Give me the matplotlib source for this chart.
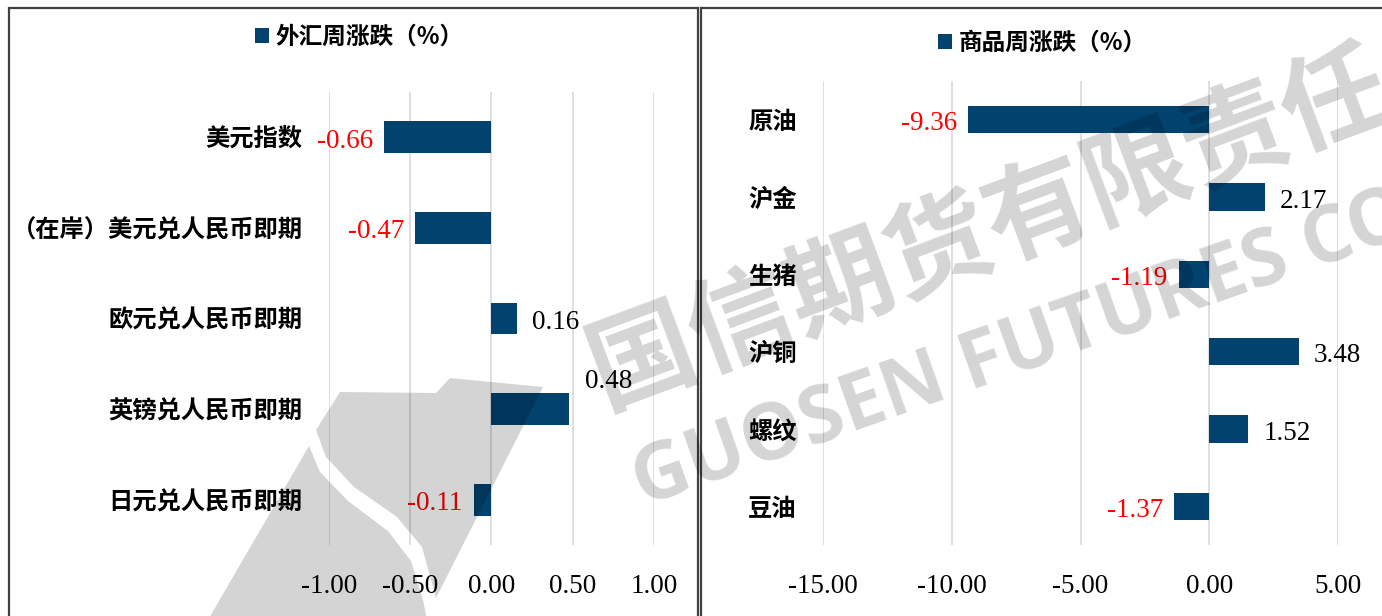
import matplotlib
matplotlib.use("Agg")
import matplotlib.pyplot as plt
from matplotlib.patches import Rectangle, Polygon

plt.rcParams['font.family'] = ['Liberation Serif', 'Noto Sans CJK SC', 'DejaVu Sans']

# data
fx_names = ['美元指数', '（在岸）美元兑人民币即期', '欧元兑人民币即期', '英镑兑人民币即期', '日元兑人民币即期']
fx_values = [-0.66, -0.47, 0.16, 0.48, -0.11]
fx_ticks = [-1.0, -0.5, 0.0, 0.5, 1.0]

com_names = ['原油', '沪金', '生猪', '沪铜', '螺纹', '豆油']
com_values = [-9.36, 2.17, -1.19, 3.48, 1.52, -1.37]
com_ticks = [-15, -10, -5, 0, 5]

BAR = '#02426F'
GRID = '#D9D9D9'
CJK = ['Noto Sans CJK SC', 'DejaVu Sans']

W, H = 1382, 616
fig = plt.figure(figsize=(W / 100, H / 100), dpi=100)

# panel borders
fig.add_artist(Rectangle((9 / W, -0.1), (698 - 9) / W, 1.1 - 8 / H, transform=fig.transFigure,
                         fill=False, edgecolor='#404040', linewidth=1.6))
fig.add_artist(Rectangle((701 / W, -0.1), 0.6, 1.1 - 8 / H, transform=fig.transFigure,
                         fill=False, edgecolor='#404040', linewidth=1.6))

ax1 = fig.add_axes([329 / W, 1 - 545 / H, 325 / W, 453 / H])
ax2 = fig.add_axes([823 / W, 1 - 545 / H, 515 / W, 464 / H])


def draw(ax, names, values, ticks, label, lim, special=None):
    y = list(range(len(names)))
    bars = ax.barh(y, values, height=0.35, color=BAR, label=label, zorder=2)
    ax.set_ylim(len(names) - 0.5, -0.5)
    ax.set_xlim(*lim)
    ax.set_xticks(ticks)
    ax.set_xticklabels([f'{t:.2f}' for t in ticks], fontsize=19.5)
    ax.set_yticks(y)
    ax.set_yticklabels(names, fontsize=17.5, fontweight='bold', family=CJK)
    ax.tick_params(axis='both', length=0)
    ax.tick_params(axis='x', pad=21)
    ax.tick_params(axis='y', pad=19)
    ax.grid(axis='x', color=GRID, linewidth=1.2, zorder=0)
    ax.set_axisbelow(True)
    for s in ax.spines.values():
        s.set_visible(False)
    for i, (b, v) in enumerate(zip(bars, values)):
        yc = b.get_y() + b.get_height() / 2
        if special is not None and i == special:
            ax.annotate(f'{v:.2f}', (v, yc), xytext=(16, 28), textcoords='offset pixels',
                        ha='left', va='center', fontsize=19.5, color='black')
        elif v < 0:
            ax.annotate(f'{v:.2f}', (v, yc), xytext=(-11, -4), textcoords='offset pixels',
                        ha='right', va='center', fontsize=19.5, color='red')
        else:
            ax.annotate(f'{v:.2f}', (v, yc), xytext=(15, -4), textcoords='offset pixels',
                        ha='left', va='center', fontsize=19.5, color='black')


draw(ax1, fx_names, fx_values, fx_ticks, '外汇周涨跌（%）', (-1.0, 1.0), special=3)
draw(ax2, com_names, com_values, com_ticks, '商品周涨跌（%）', (-15, 5))

for ax, cx, cy in [(ax1, 359, 37), (ax2, 1042, 43)]:
    ax.legend(loc='center', bbox_to_anchor=(cx / W, 1 - cy / H), bbox_transform=fig.transFigure,
              frameon=False, handlelength=0.62, handleheight=0.62, handletextpad=0.25,
              prop={'family': CJK, 'size': 17, 'weight': 'bold'})

# watermark: logo (two pieces split by a white curve) + company name
logo_upper = [(340, 392), (436, 393), (450, 378), (543, 387), (436, 598), (422, 547),
              (397, 517), (354, 487), (326, 457), (316, 430)]
logo_lower = [(309, 446), (320, 472), (348, 501), (388, 531), (411, 561), (423, 600),
              (428, 625), (205, 625)]
for piece in (logo_upper, logo_lower):
    fig.add_artist(Polygon([(x / W, 1 - y / H) for x, y in piece], closed=True,
                           transform=fig.transFigure, facecolor='black', edgecolor='none', alpha=0.17))
fig.text(594 / W, 1 - 377 / H, '国信期货有限责任', rotation=20.5, rotation_mode='anchor',
         ha='left', va='center', fontsize=76, fontweight='bold', family=CJK, color='black', alpha=0.17)
fig.text(636 / W, 1 - 487 / H, 'GUOSEN FUTURES CO', rotation=19.5, rotation_mode='anchor',
         ha='left', va='center', fontsize=56, fontweight='bold', family=['Open Sans', 'DejaVu Sans'],
         color='black', alpha=0.17)

fig.savefig('out.png', dpi=100)
